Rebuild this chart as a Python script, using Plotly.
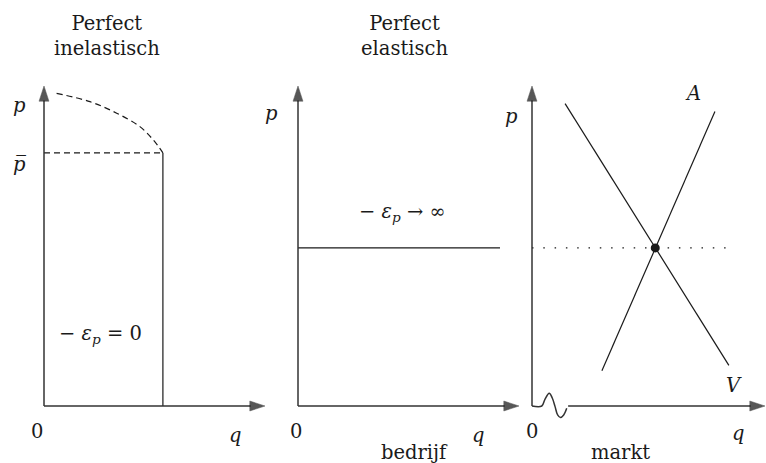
import plotly.graph_objects as go

W, H = 766, 463

# ---------------- data (conceptual units: each axis runs 0 -> 10) ----------------
axis_tip = 10.0
# Panel 1: perfectly inelastic
inel_q = 5.38
p_bar = 7.91
inel_curve_q = [0.57, 2.08, 3.29, 4.34, 4.95, 5.38]
inel_curve_p = [9.77, 9.51, 9.15, 8.73, 8.31, 7.91]
# Panel 2: perfectly elastic
elastic_p = 4.94
elastic_q_end = 9.14
# Panel 3: market
demand_q = [1.42, 8.45]
demand_p = [9.45, 1.27]
supply_q = [3.00, 7.85]
supply_p = [1.10, 9.20]
eq_q, eq_p = 5.29, 4.94
dotted_q_end = 8.45
break_q = [0.0, 0.42, 0.55, 0.74, 0.87, 0.99, 1.10, 1.22, 1.36, 1.49]
break_p = [0.0, 0.0, 0.20, 0.40, 0.25, -0.02, -0.28, -0.36, -0.28, -0.07]
axis3_start = 1.55

# ---------------- layout helpers ----------------
FONT = "DejaVu Serif"
FS = 19.5
INK = "#1a1a1a"
AX = "#333333"
HEAD = "#111111"

# pixel geometry of each panel: (left px, right px, origin px, px per unit)
panels = {
    "x":  (0, 270, 44, 22.1),
    "x2": (270, 522, 298, 22.1),
    "x3": (505, 766, 532, 23.3),
}
oy, sy = 406, 32.0
yrange = [(oy - H) / sy, oy / sy]

fig = go.Figure()

def yref_of(ax):
    return "y" + ax[1:] if len(ax) > 1 else "y"

def line(xs, ys, ax, **kw):
    fig.add_trace(go.Scatter(x=xs, y=ys, mode="lines", xaxis=ax, yaxis=yref_of(ax),
                             hoverinfo="skip", showlegend=False, **kw))

def axis_arrow(ax, x0, y0, x1, y1):
    fig.add_trace(go.Scatter(x=[x0, x1], y=[y0, y1], mode="lines+markers",
                             xaxis=ax, yaxis=yref_of(ax), hoverinfo="skip", showlegend=False,
                             line=dict(color=AX, width=1.5),
                             marker=dict(symbol="arrow", size=[0, 16], color=HEAD,
                                         angleref="previous", line=dict(width=0.5, color=HEAD)),
                             cliponaxis=False))

# Panel 1
line([inel_q, inel_q], [0, p_bar], "x", line=dict(color=INK, width=1.2))
line([0, inel_q], [p_bar, p_bar], "x", line=dict(color=INK, width=1.2, dash="6px,4px"))
line(inel_curve_q, inel_curve_p, "x", line=dict(color=INK, width=1.2, dash="6px,4px", shape="spline"))
# Panel 2
line([0, elastic_q_end], [elastic_p, elastic_p], "x2", line=dict(color=INK, width=1.2))
# Panel 3
line([0, dotted_q_end], [eq_p, eq_p], "x3", line=dict(color=INK, width=1.3, dash="1.5px,9.8px"))
line(demand_q, demand_p, "x3", line=dict(color=INK, width=1.2))
line(supply_q, supply_p, "x3", line=dict(color=INK, width=1.2))
line(break_q, break_p, "x3", line=dict(color=AX, width=1.5, shape="spline"))
fig.add_trace(go.Scatter(x=[eq_q], y=[eq_p], mode="markers", xaxis="x3", yaxis="y3",
                         marker=dict(size=9, color=INK), hoverinfo="skip", showlegend=False))

for ax in ["x", "x2"]:
    axis_arrow(ax, 0, 0, 0, axis_tip)
    axis_arrow(ax, 0, 0, axis_tip, 0)
axis_arrow("x3", 0, 0, 0, axis_tip)
axis_arrow("x3", axis3_start, 0, axis_tip, 0)

annotations = []

def label(ax, x, y, text, size=FS):
    annotations.append(dict(x=x, y=y, xref=ax, yref=yref_of(ax), text=text, showarrow=False,
                            font=dict(family=FONT, size=size, color=INK)))

def title(xpx, text):
    annotations.append(dict(x=xpx / W, y=1 - 36 / H, xref="paper", yref="paper", text=text,
                            xanchor="center", yanchor="middle", showarrow=False,
                            font=dict(family=FONT, size=FS, color=INK)))

title(107, "Perfect<br>inelastisch")
title(404, "Perfect<br>elastisch")

# panel 1 labels
label("x", -1.09, 9.4, "<i>p</i>")
label("x", -1.09, 7.55, "<i>p\u0305</i>")
label("x", -0.32, -0.81, "0")
label("x", 8.64, -0.91, "<i>q</i>")
label("x", 2.55, 2.25, "\u2212 <i>\u03b5<sub>p</sub></i> = 0")
# panel 2 labels
label("x2", -1.18, 9.15, "<i>p</i>")
label("x2", -0.09, -0.81, "0")
label("x2", 8.14, -0.93, "<i>q</i>")
label("x2", 5.29, -1.44, "bedrijf")
label("x2", 4.75, 6.05, "\u2212 <i>\u03b5<sub>p</sub></i> \u2192 \u221e")
# panel 3 labels
label("x3", -0.9, 9.05, "<i>p</i>")
label("x3", 0.0, -0.81, "0")
label("x3", 8.84, -0.86, "<i>q</i>")
label("x3", 3.78, -1.44, "markt")
label("x3", 6.91, 9.78, "<i>A</i>")
label("x3", 8.67, 0.63, "<i>V</i>")

layout = dict(width=W, height=H, margin=dict(l=0, r=0, t=0, b=0),
              paper_bgcolor="white", plot_bgcolor="rgba(0,0,0,0)",
              showlegend=False, annotations=annotations)
for ax, (l, r, o, s) in panels.items():
    suffix = ax[1:]
    layout["xaxis" + suffix] = dict(domain=[l / W, r / W], range=[(l - o) / s, (r - o) / s],
                                    visible=False, fixedrange=True,
                                    anchor="y" + suffix)
    layout["yaxis" + suffix] = dict(domain=[0, 1], range=yrange, visible=False,
                                    fixedrange=True, anchor=ax)
fig.update_layout(**layout)
fig.write_html("out.html", config={"displayModeBar": False},
               post_script="document.body.style.margin='0';document.body.style.overflow='hidden';")
